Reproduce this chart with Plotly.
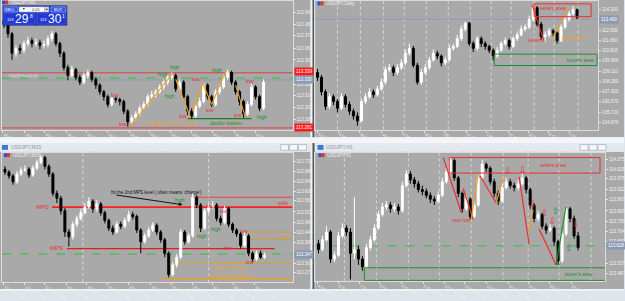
import plotly.graph_objects as go

W, H = 625, 301
def px(x):
    return x / W
def py(y):
    return 1 - y / H

GREY = '#a9a9a9'
RED = '#e8302c'
GREEN = '#1f8f2a'
ORANGE = '#f0a020'
LBL = '#f2f2f2'
FONT = 'Liberation Sans'

# ---------------- data: top-left USDJPY,M1 ----------------
tl_open = [113.392,113.388,113.378,113.358,113.363,113.361,113.368,113.371,113.368,113.369,
 113.366,113.367,113.373,113.378,113.368,113.358,113.343,113.335,113.341,113.333,
 113.328,113.335,113.338,113.331,113.325,113.318,113.313,113.305,113.311,113.310,
 113.308,113.298,113.287,113.291,113.295,113.301,113.305,113.313,113.315,113.318,
 113.323,113.328,113.333,113.335,113.321,113.328,113.313,113.298,113.293,113.303,
 113.308,113.325,113.313,113.305,113.318,113.323,113.333,113.338,113.328,113.318,
 113.308,113.295,113.305,113.323,113.313,113.301]
tl_close = [113.388,113.378,113.358,113.363,113.361,113.368,113.371,113.368,113.369,113.366,
 113.367,113.373,113.378,113.368,113.358,113.343,113.335,113.341,113.333,113.328,
 113.335,113.338,113.331,113.325,113.318,113.313,113.305,113.311,113.310,113.308,
 113.298,113.287,113.291,113.295,113.301,113.305,113.313,113.315,113.318,113.323,
 113.328,113.333,113.335,113.321,113.328,113.313,113.298,113.293,113.303,113.308,
 113.325,113.313,113.305,113.318,113.323,113.333,113.338,113.328,113.318,113.308,
 113.295,113.305,113.323,113.313,113.301,113.328]
tl_high = [113.396,113.391,113.380,113.366,113.367,113.371,113.375,113.374,113.373,113.372,
 113.371,113.376,113.381,113.380,113.370,113.360,113.346,113.345,113.343,113.336,
 113.338,113.341,113.340,113.333,113.327,113.320,113.315,113.313,113.313,113.312,
 113.310,113.300,113.294,113.298,113.304,113.308,113.316,113.319,113.321,113.326,
 113.331,113.336,113.338,113.337,113.331,113.330,113.315,113.301,113.306,113.312,
 113.327,113.327,113.315,113.321,113.326,113.336,113.341,113.340,113.330,113.320,
 113.310,113.308,113.326,113.325,113.315,113.331]
tl_low = [113.384,113.374,113.351,113.354,113.357,113.358,113.365,113.364,113.365,113.362,
 113.363,113.364,113.370,113.365,113.354,113.340,113.330,113.333,113.330,113.325,
 113.326,113.332,113.328,113.321,113.315,113.309,113.302,113.303,113.307,113.304,
 113.295,113.282,113.284,113.288,113.293,113.299,113.303,113.310,113.312,113.316,
 113.320,113.325,113.330,113.318,113.319,113.310,113.294,113.290,113.291,113.301,
 113.306,113.310,113.302,113.303,113.315,113.321,113.330,113.325,113.315,113.304,
 113.291,113.293,113.303,113.310,113.298,113.299]
tl_yticks = [113.400,113.388,113.376,113.363,113.351,113.326,113.314,113.302,113.289]
tl_xticks = [-0.25,5.25,10.25,15.75,20.75,26,31.5,36.5,41.75,47,52.25,57.75,63]
tl_xlabels = ['16 Nov 20:24','16 Nov 20:34','16 Nov 20:44','16 Nov 20:54','16 Nov 21:04',
 '16 Nov 21:14','16 Nov 21:24','16 Nov 21:34','16 Nov 21:44','16 Nov 21:54',
 '16 Nov 22:04','16 Nov 22:14','16 Nov 22:24']
tl_zig_x = [31.5,42.25,None,43,46.75,None,47.25,49.75,52,55.5,None,58,60.5]
tl_zig_y = [113.282,113.337,None,113.331,113.291,None,113.298,113.327,113.305,113.339,None,113.325,113.291]

# ---------------- data: top-right USDJPY,Daily ----------------
tr_open = [109.00,108.60,107.40,106.20,107.00,106.60,106.04,107.00,106.36,105.80,
 105.40,105.00,106.60,107.00,107.40,107.16,107.64,108.20,109.24,109.40,
 109.00,109.40,109.80,110.60,111.00,109.60,108.20,109.00,109.40,110.04,
 110.60,110.36,109.80,110.04,111.00,111.16,111.80,112.60,113.08,111.40,
 111.00,111.80,111.40,111.16,110.84,110.36,110.84,111.40,111.64,111.16,
 111.80,112.12,112.60,112.76,113.40,114.36,113.00,111.96,112.12,112.44,
 112.28,111.64,112.76,113.40,113.88,114.20]
tr_close = [108.60,107.40,106.20,107.00,106.60,106.04,107.00,106.36,105.80,105.40,
 105.00,106.60,107.00,107.40,107.16,107.64,108.20,109.24,109.40,109.00,
 109.40,109.80,110.60,111.00,109.60,108.20,109.00,109.40,110.04,110.60,
 110.36,109.80,110.04,111.00,111.16,111.80,112.60,113.08,111.40,111.00,
 111.80,111.40,111.16,110.84,110.36,110.84,111.40,111.64,111.16,111.80,
 112.12,112.60,112.76,113.40,114.36,113.00,111.96,112.12,112.44,112.28,
 111.64,112.76,113.40,113.88,114.20,113.56]
tr_high = [109.30,108.80,107.60,107.30,107.20,106.80,107.30,107.20,106.60,106.00,
 105.70,106.80,107.30,107.70,107.60,107.90,108.50,109.50,109.70,109.60,
 109.70,110.10,110.90,111.40,111.20,109.80,109.30,109.70,110.30,110.90,
 110.80,110.50,110.30,111.30,111.40,112.10,112.90,113.20,113.20,111.60,
 112.00,112.00,111.60,111.30,111.00,111.10,111.60,111.90,111.80,112.00,
 112.40,112.90,113.00,113.70,114.60,114.50,113.20,112.40,112.70,112.60,
 112.40,113.00,113.60,114.10,114.50,114.30]
tr_low = [108.30,107.10,105.90,106.00,106.30,105.70,105.90,106.10,105.50,105.10,
 104.60,104.90,106.40,106.80,106.90,107.00,107.50,108.00,109.00,108.70,
 108.80,109.20,109.60,110.40,109.40,108.00,108.00,108.80,109.20,109.90,
 110.10,109.50,109.60,109.90,110.80,111.00,111.60,112.40,111.20,110.70,
 110.80,111.10,110.90,110.60,110.00,110.20,110.70,111.20,110.90,111.00,
 111.60,112.00,112.40,112.60,113.20,112.80,111.70,111.50,111.90,112.00,
 111.40,111.50,112.60,113.20,113.70,113.40]
tr_yticks = [114.20,112.50,111.66,110.81,109.96,109.11,108.26,107.42,106.57,105.72,104.87]
tr_xticks = [0,5.25,10.5,16,21.25,26.75,31.75,37.25,42.25,47.75,52.75,57.75,63]
tr_xlabels = ['12 Feb 2018','5 Mar 2018','26 Mar 2018','16 Apr 2018','8 May 2018','30 May 2018',
 '20 Jun 2018','11 Jul 2018','1 Aug 2018','22 Aug 2018','12 Sep 2018','3 Oct 2018','7 Nov 2018']
tr_vgrid = [5,10.75,16.5,21.75,27.25,32.75,38.25,43.5,48.5,54.25,59.25,65.25]

# ---------------- data: bottom-left USDJPY,M15 ----------------
bl_open = [113.700,113.688,113.672,113.648,113.680,113.696,113.700,113.676,113.704,113.728,
 113.748,113.712,113.680,113.600,113.580,113.528,113.440,113.420,113.472,113.496,
 113.520,113.544,113.568,113.536,113.556,113.520,113.488,113.456,113.440,113.472,
 113.464,113.488,113.512,113.504,113.448,113.400,113.424,113.448,113.468,113.440,
 113.408,113.352,113.264,113.304,113.336,113.440,113.400,113.424,113.584,113.552,
 113.456,113.528,113.544,113.552,113.496,113.480,113.536,113.472,113.448,113.432,
 113.384,113.424,113.352,113.328,113.352,113.336]
bl_close = [113.688,113.672,113.648,113.680,113.696,113.700,113.676,113.704,113.728,113.748,
 113.712,113.680,113.600,113.580,113.528,113.440,113.420,113.472,113.496,113.520,
 113.544,113.568,113.536,113.556,113.520,113.488,113.456,113.440,113.472,113.464,
 113.488,113.512,113.504,113.448,113.400,113.424,113.448,113.468,113.440,113.408,
 113.352,113.264,113.304,113.336,113.440,113.400,113.424,113.584,113.552,113.456,
 113.528,113.544,113.552,113.496,113.480,113.536,113.472,113.448,113.432,113.384,
 113.424,113.352,113.328,113.352,113.336,113.344]
bl_high = [113.712,113.696,113.680,113.692,113.708,113.716,113.708,113.716,113.740,113.760,
 113.756,113.720,113.688,113.612,113.590,113.540,113.452,113.484,113.508,113.536,
 113.560,113.584,113.576,113.572,113.564,113.528,113.496,113.468,113.484,113.484,
 113.500,113.528,113.524,113.512,113.456,113.436,113.460,113.480,113.476,113.448,
 113.416,113.360,113.316,113.348,113.452,113.448,113.436,113.600,113.592,113.560,
 113.540,113.556,113.568,113.560,113.508,113.548,113.544,113.480,113.456,113.440,
 113.440,113.432,113.360,113.364,113.364,113.356]
bl_low = [113.676,113.660,113.636,113.640,113.672,113.688,113.664,113.668,113.696,113.720,
 113.700,113.668,113.588,113.560,113.512,113.420,113.380,113.408,113.460,113.488,
 113.512,113.536,113.520,113.524,113.508,113.476,113.444,113.428,113.432,113.452,
 113.456,113.480,113.492,113.436,113.352,113.392,113.416,113.440,113.428,113.396,
 113.336,113.252,113.256,113.292,113.328,113.388,113.392,113.416,113.540,113.440,
 113.448,113.516,113.536,113.484,113.468,113.472,113.460,113.436,113.420,113.372,
 113.376,113.340,113.316,113.320,113.328,113.328]
bl_yticks = [113.733,113.689,113.649,113.609,113.569,113.523,113.480,113.440,113.396,113.309,113.271]
bl_xticks = [-0.25,5,10,15.5,20.5,25.75,31,36.5,41.75,47,52,57.25,62.5]
bl_xlabels = ['14 Nov 2018','14 Nov 12:45','14 Nov 16:45','14 Nov 20:45','15 Nov 00:45',
 '15 Nov 04:45','15 Nov 08:45','15 Nov 12:45','15 Nov 16:45','15 Nov 20:45',
 '16 Nov 00:45','16 Nov 04:45','16 Nov 08:45']
bl_vgrid = [19.5, 51]

# ---------------- data: bottom-right USDJPY,H1 ----------------
br_open = [113.640,113.610,113.660,113.700,113.560,113.580,113.680,113.720,113.700,113.590,
 113.610,113.560,113.520,113.620,113.660,113.720,113.790,113.830,113.840,113.820,
 113.830,113.810,113.940,114.000,113.970,113.950,113.920,113.910,113.890,113.870,
 113.860,113.890,113.960,114.010,114.070,113.980,113.900,113.820,113.870,113.780,
 113.840,113.980,114.050,114.030,113.960,113.900,113.860,113.930,113.960,113.940,
 113.930,113.950,113.980,113.920,113.840,113.770,113.790,113.730,113.710,113.720,
 113.650,113.550,113.690,113.820,113.770,113.680]
br_close = [113.610,113.660,113.700,113.560,113.580,113.680,113.720,113.700,113.590,113.610,
 113.560,113.520,113.620,113.660,113.720,113.790,113.830,113.840,113.820,113.830,
 113.810,113.940,114.000,113.970,113.950,113.920,113.910,113.890,113.870,113.860,
 113.890,113.960,114.010,114.070,113.980,113.900,113.820,113.870,113.780,113.840,
 113.980,114.050,114.030,113.960,113.900,113.860,113.930,113.960,113.940,113.930,
 113.950,113.980,113.920,113.840,113.770,113.790,113.730,113.710,113.720,113.650,
 113.550,113.690,113.820,113.770,113.680,113.620]
br_high = [113.660,113.680,113.730,113.710,113.600,113.700,113.745,113.735,113.720,113.880,
 113.630,113.575,113.640,113.680,113.740,113.810,113.850,113.860,113.855,113.850,
 113.845,113.960,114.020,114.015,113.985,113.965,113.940,113.925,113.905,113.885,
 113.910,113.980,114.030,114.090,114.080,113.990,113.910,113.890,113.880,113.860,
 114.000,114.075,114.060,114.040,113.975,113.915,113.950,113.980,113.975,113.955,
 113.970,114.005,113.990,113.930,113.850,113.810,113.800,113.745,113.740,113.730,
 113.660,113.705,113.840,113.830,113.785,113.700]
br_low = [113.590,113.600,113.650,113.540,113.545,113.570,113.670,113.680,113.455,113.560,
 113.530,113.500,113.510,113.605,113.650,113.710,113.780,113.815,113.800,113.805,
 113.790,113.800,113.930,113.950,113.930,113.905,113.890,113.875,113.850,113.840,
 113.850,113.880,113.950,114.000,113.965,113.880,113.800,113.810,113.765,113.770,
 113.830,113.970,114.010,113.945,113.880,113.840,113.850,113.920,113.925,113.910,
 113.915,113.940,113.900,113.820,113.750,113.755,113.715,113.690,113.700,113.630,
 113.530,113.540,113.680,113.750,113.665,113.605]
br_yticks = [114.075,114.025,113.975,113.922,113.867,113.809,113.755,113.704,113.650,113.537,113.487]
br_xticks = [-0.25,5,10.25,15.25,20.75,26.25,31.5,36.5,42,47.5,52.5,57.75,63.25]
br_xlabels = ['6 Nov 2018','6 Nov 18:00','7 Nov 10:00','8 Nov 02:00','8 Nov 18:00','9 Nov 10:00',
 '12 Nov 02:00','12 Nov 18:00','13 Nov 10:00','14 Nov 02:00','14 Nov 18:00','15 Nov 10:00','16 Nov 02:00']
br_vgrid = [6.5,14.5,22.5,30.25,38.25,46.25,52.5,60.25,68.25]

# ---------------- figure ----------------
fig = go.Figure()

panels = [
    ('x', 'y', tl_open, tl_high, tl_low, tl_close),
    ('x2', 'y2', tr_open, tr_high, tr_low, tr_close),
    ('x3', 'y3', bl_open, bl_high, bl_low, bl_close),
    ('x4', 'y4', br_open, br_high, br_low, br_close),
]
for xa, ya, o, h, l, c in panels:
    fig.add_trace(go.Candlestick(
        x=list(range(len(c))), open=o, high=h, low=l, close=c,
        xaxis=xa, yaxis=ya, hoverinfo='skip', whiskerwidth=0,
        increasing=dict(line=dict(color='#ffffff', width=1), fillcolor='#ffffff'),
        decreasing=dict(line=dict(color='#000000', width=1), fillcolor='#000000'),
        showlegend=False))

def zig(xa, ya, xs, ys, color, width=1.2):
    fig.add_trace(go.Scatter(x=xs, y=ys, mode='lines', xaxis=xa, yaxis=ya,
                             line=dict(color=color, width=width), hoverinfo='skip',
                             showlegend=False, connectgaps=False))

# TL zigzag
zig('x', 'y', tl_zig_x, tl_zig_y, ORANGE)
# TR lines
zig('x2', 'y2', [53.75, 56.75], [114.60, 111.56], RED)
zig('x2', 'y2', [58.5, 62.75], [111.56, 114.36], ORANGE)
# BR lines
zig('x4', 'y4', [31.25, 35.75], [114.085, 113.80], RED)
zig('x4', 'y4', [36.25, 38.75], [113.925, 113.765], RED)
zig('x4', 'y4', [40.5, 44.5], [113.99, 113.85], RED)
zig('x4', 'y4', [50.25, 52.75], [113.985, 113.635], RED)
zig('x4', 'y4', [55.25, 59.5], [113.715, 113.53], RED)
zig('x4', 'y4', [59.5, 62], [113.53, 113.835], GREEN)
zig('x4', 'y4', [38.25, 40], [113.765, 114.0], ORANGE)
zig('x4', 'y4', [44.5, 46.25], [113.85, 113.985], ORANGE)
zig('x4', 'y4', [52.5, 53.75], [113.70, 113.815], ORANGE)

def ax_common(domx, domy, xr, yr, xt, xl, yt, anchor_y, anchor_x):
    xa = dict(domain=[px(domx[0]), px(domx[1])], range=xr, anchor=anchor_y,
              showgrid=False, zeroline=False, showline=True, linecolor='#dcdcdc', linewidth=1,
              mirror=True, ticks='outside', ticklen=2, tickcolor='#e6e6e6',
              tickvals=xt, ticktext=xl, ticklabelposition='outside right',
              tickfont=dict(size=4, color=LBL, family=FONT),
              rangeslider=dict(visible=False), fixedrange=True)
    ya = dict(domain=[py(domy[1]), py(domy[0])], range=yr, anchor=anchor_x, side='right',
              showgrid=False, zeroline=False, showline=True, linecolor='#dcdcdc', linewidth=1,
              mirror=True, ticks='outside', ticklen=2, tickcolor='#e6e6e6',
              tickvals=yt, ticktext=['%.3f' % v for v in yt],
              tickfont=dict(size=4.5, color=LBL, family=FONT), fixedrange=True)
    return xa, ya

xa1, ya1 = ax_common((2, 293), (1, 134), [-0.5, 72.25], [113.279, 113.412], tl_xticks, tl_xlabels, tl_yticks, 'y', 'x')
xa2, ya2 = ax_common((316, 599), (1, 134), [-0.5, 70.25], [104.28, 114.92], tr_xticks, tr_xlabels, tr_yticks, 'y2', 'x2')
xa3, ya3 = ax_common((2, 293), (158, 292), [-0.75, 72], [113.232, 113.768], bl_xticks, bl_xlabels, bl_yticks, 'y3', 'x3')
xa4, ya4 = ax_common((316, 606), (158, 291), [-0.75, 71.75], [113.445, 114.11], br_xticks, br_xlabels, br_yticks, 'y4', 'x4')

shapes = []
annots = []

def prect(x0, y0, x1, y1, fill, line=None, lw=0, layer='below'):
    shapes.append(dict(type='rect', xref='paper', yref='paper', x0=px(x0), x1=px(x1),
                       y0=py(y1), y1=py(y0), fillcolor=fill, layer=layer,
                       line=dict(color=line or fill, width=lw)))

def ptext(x, y, text, color, size=5, xanchor='left', bg=None, family=FONT):
    annots.append(dict(xref='paper', yref='paper', x=px(x), y=py(y), text=text,
                       showarrow=False, xanchor=xanchor, yanchor='middle',
                       font=dict(size=size, color=color, family=family),
                       bgcolor=bg, borderpad=0))

# window backgrounds
prect(0, 0, 311, 142, GREY)
prect(316, 0, 625, 142, GREY)
prect(0, 157, 311, 299, GREY)
prect(316, 157, 625, 299, GREY)
# separators / frame
prect(311, 0, 313, 301, '#eef2f6')
prect(313, 0, 315, 301, '#50585f')
prect(0, 142, 625, 148, '#f3f6f9')
prect(0, 299, 625, 301, '#eef2f6')
# title bars
prect(0, 148, 311, 157, '#e3e9ef')
prect(316, 148, 625, 157, '#e3e9ef')
prect(2, 150, 8, 155, '#3a7bd5')
prect(318, 150, 324, 155, '#3a7bd5')
ptext(10, 152.5, 'USDJPY,M15', '#8a97a5', size=5)
ptext(326, 152.5, 'USDJPY,H1', '#8a97a5', size=5)
for bx in (281, 290, 299):
    prect(bx, 149.5, bx + 8, 155.5, '#f4f6f8', '#9aa5b0', 0.6, 'above')
    prect(bx + 300, 149.5, bx + 308, 155.5, '#f4f6f8', '#9aa5b0', 0.6, 'above')

# chart labels inside panels
for (x0, y0, name) in [(2, 2.5, 'USDJPY,M1'), (318, 3.5, 'USDJPY,Daily'),
                       (4, 160.5, 'USDJPY,M15'), (319, 160.5, 'USDJPY,H1')]:
    prect(x0, y0 - 2, x0 + 3, y0 + 2, '#3050d0', layer='above')
    prect(x0 + 3, y0 - 2, x0 + 6, y0 + 2, '#e03030', layer='above')
    ptext(x0 + 8, y0, name, '#eeeeee', size=4.5)

# one-click trading widget (TL)
prect(3, 6, 67, 26, '#1c2fb8', '#0d1a80', 0.6, 'above')
prect(4, 7, 18, 12.5, '#3456e0', '#c8d0ff', 0.5, 'above')
prect(19, 7, 45, 12.5, '#ffffff', '#8890b0', 0.5, 'above')
prect(45, 7, 49, 12.5, '#e8e8e8', '#8890b0', 0.5, 'above')
prect(51, 7, 66, 12.5, '#3456e0', '#c8d0ff', 0.5, 'above')
prect(4, 13.5, 35, 25, '#2238d0', '#5a70f0', 0.5, 'above')
prect(37, 13.5, 66, 25, '#2238d0', '#5a70f0', 0.5, 'above')
ptext(11, 9.8, 'SELL', '#ffffff', size=4, xanchor='center')
ptext(21, 9.8, '\u25bc', '#333333', size=3.5, xanchor='left')
ptext(37, 9.8, '0.01', '#333333', size=4, xanchor='center')
ptext(47, 9.8, '\u25b2', '#333333', size=3.5, xanchor='center')
ptext(58.5, 9.8, 'BUY', '#ffffff', size=4, xanchor='center')
ptext(6, 20.5, '113', '#ffffff', size=4)
ptext(14, 19.5, '29', '#ffffff', size=12)
ptext(29, 16.5, '8', '#ffffff', size=5)
ptext(39, 20.5, '113', '#ffffff', size=4)
ptext(47, 19.5, '30', '#ffffff', size=12)
ptext(61, 16.5, '1', '#ffffff', size=5)

def hline(xref, yref, x0, x1, y, color, width=1, dash='solid', domain=False):
    shapes.append(dict(type='line', xref=xref + (' domain' if domain else ''), yref=yref,
                       x0=x0, x1=x1, y0=y, y1=y, line=dict(color=color, width=width, dash=dash),
                       layer='below'))

def vgrid(xref, yref, xs):
    for v in xs:
        shapes.append(dict(type='line', xref=xref, yref=yref + ' domain', x0=v, x1=v, y0=0, y1=1,
                           line=dict(color='#d8d8d8', width=1, dash='dot'), layer='below'))

def drect(xref, yref, x0, x1, y0, y1, color):
    shapes.append(dict(type='rect', xref=xref, yref=yref, x0=x0, x1=x1, y0=y0, y1=y1,
                       line=dict(color=color, width=1), fillcolor='rgba(0,0,0,0)', layer='above'))

def dtext(xref, yref, x, y, text, color, size=5, xanchor='center', family=FONT):
    annots.append(dict(xref=xref, yref=yref, x=x, y=y, text=text, showarrow=False,
                       xanchor=xanchor, yanchor='middle',
                       font=dict(size=size, color=color, family=family)))

def plabel(xref, yref, y, text, bg, fg='#ffffff'):
    annots.append(dict(xref=xref + ' domain', yref=yref, x=1.0, y=y, text=text,
                       showarrow=False, xanchor='left', yanchor='middle', xshift=1,
                       font=dict(size=4.5, color=fg, family=FONT), bgcolor=bg, borderpad=1))

# ---- TL lines / labels
hline('x', 'y', 0, 1, 113.3377, '#d94040', 1, domain=True)
hline('x', 'y', 0, 1, 113.3323, '#33c23a', 1, 'dash', domain=True)
hline('x', 'y', 0, 1, 113.3303, '#8c9db5', 1, domain=True)
hline('x', 'y', 0, 1, 113.2807, '#d94040', 1, domain=True)
hline('x', 'y', 46, 62, 113.2903, '#1d7a25', 1.3)
plabel('x', 'y', 113.339, '113.339', '#ff1a1a')
plabel('x', 'y', 113.331, '113.330', '#8a9ab4')
plabel('x', 'y', 113.281, '113.281', '#ff1a1a')
dtext('x', 'y', 0.5, 113.335, '#24429 buy 0.10', '#e0e0e0', size=4, xanchor='left')
for (x, y) in [(39.75, 113.336), (42.75, 113.344), (41.5, 113.314), (53.25, 113.341), (64.5, 113.292)]:
    dtext('x', 'y', x, y, 'high', GREEN)
for (x, y) in [(27.75, 113.315), (29.75, 113.285), (48, 113.331), (44.75, 113.2935),
               (51.5, 113.299), (58.5, 113.294), (61.5, 113.329)]:
    dtext('x', 'y', x, y, 'low', RED)
dtext('x', 'y', 55.5, 113.286, 'double bottom', GREEN)
dtext('x', 'y', 33.8, 113.2855, '<-- taking more out of move', ORANGE, size=4.5, xanchor='left')

# ---- TR
vgrid('x2', 'y2', tr_vgrid)
hline('x2', 'y2', 0, 1, 113.40, '#8c9db5', 1, domain=True)
plabel('x2', 'y2', 113.40, '113.400', '#8a9ab4')
drect('x2', 'y2', 54.25, 68.5, 113.62, 114.68, RED)
drect('x2', 'y2', 44.25, 70, 109.58, 110.52, GREEN)
dtext('x2', 'y2', 59, 114.36, 'sellers area', RED)
dtext('x2', 'y2', 65.75, 110.04, 'buyers area', GREEN)
dtext('x2', 'y2', 54.5, 111.72, 'sellers', RED)
dtext('x2', 'y2', 64.25, 111.88, 'RETRACE', ORANGE)

# ---- BL
vgrid('x3', 'y3', bl_vgrid)
hline('x3', 'y3', 11.75, 72, 113.543, '#ff2020', 1.6)
hline('x3', 'y3', 46.75, 72, 113.584, '#e84040', 1)
hline('x3', 'y3', 15.5, 67.5, 113.371, '#e02020', 1.3)
hline('x3', 'y3', 0, 1, 113.349, '#33c23a', 1, 'dash', domain=True)
hline('x3', 'y3', 60, 72, 113.44, '#d49a30', 1)
hline('x3', 'y3', 60, 72, 113.411, '#d49a30', 1)
hline('x3', 'y3', 41.25, 72, 113.311, '#e0a030', 1)
hline('x3', 'y3', 39.5, 72, 113.244, '#f0a020', 1.3)
plabel('x3', 'y3', 113.347, '113.347', '#8a9ab4')
dtext('x3', 'y3', 11.5, 113.544, 'MPS', RED, size=6, xanchor='right')
dtext('x3', 'y3', 15.0, 113.372, 'MPS', RED, size=6, xanchor='right')
dtext('x3', 'y3', 71.5, 113.56, 'sells', RED, xanchor='right')
dtext('x3', 'y3', 71.5, 113.420, 'entry', '#d49a30', xanchor='right')
dtext('x3', 'y3', 56.25, 113.294, 'top of lowest bar', ORANGE, size=4.5)
dtext('x3', 'y3', 56.25, 113.256, 'major low in this move', ORANGE, size=4.5)
dtext('x3', 'y3', 38, 113.602, "hit the 2nd MPS level ( often means 'change')", '#111111', size=4.5)
annots.append(dict(xref='x3', yref='y3', x=44.5, y=113.553, axref='x3', ayref='y3',
                   ax=27.5, ay=113.594, text='', showarrow=True, arrowhead=2, arrowsize=0.8,
                   arrowwidth=1, arrowcolor='#111111'))
for (x, y) in [(43.75, 113.572), (49.25, 113.424), (52.75, 113.452)]:
    dtext('x3', 'y3', x, y, 'high', GREEN)
for (x, y) in [(51.25, 113.548), (54.75, 113.528), (59.75, 113.444), (55.75, 113.372), (61.25, 113.317)]:
    dtext('x3', 'y3', x, y, 'low', RED)

# ---- BR
vgrid('x4', 'y4', br_vgrid)
hline('x4', 'y4', 0, 1, 113.6285, '#33c23a', 1, 'dash', domain=True)
plabel('x4', 'y4', 113.628, '113.628', '#8a9ab4')
drect('x4', 'y4', 32.75, 70.5, 114.005, 114.085, RED)
drect('x4', 'y4', 11.5, 72, 113.45, 113.515, GREEN)
dtext('x4', 'y4', 58.75, 114.045, 'sellers area', RED)
dtext('x4', 'y4', 65.25, 113.483, "buyer's area", GREEN)
dtext('x4', 'y4', 35.75, 113.76, 'new low', RED)
for (x, y) in [(47.5, 114.015), (51.25, 114.02), (53.75, 113.845), (56.75, 113.80),
               (58.75, 113.755), (64.5, 113.74)]:
    dtext('x4', 'y4', x, y, '\u21e9', RED, size=9, family='DejaVu Sans')
for (x, y) in [(59.5, 113.81), (62.75, 113.615)]:
    dtext('x4', 'y4', x, y, '\u21e7', GREEN, size=9, family='DejaVu Sans')

fig.update_layout(
    width=W, height=H, margin=dict(l=0, r=0, t=0, b=0),
    paper_bgcolor='#dde4eb', plot_bgcolor=GREY,
    xaxis=xa1, yaxis=ya1, xaxis2=xa2, yaxis2=ya2,
    xaxis3=xa3, yaxis3=ya3, xaxis4=xa4, yaxis4=ya4,
    shapes=shapes, annotations=annots, showlegend=False,
    font=dict(family=FONT),
)
fig.write_html('out.html')
